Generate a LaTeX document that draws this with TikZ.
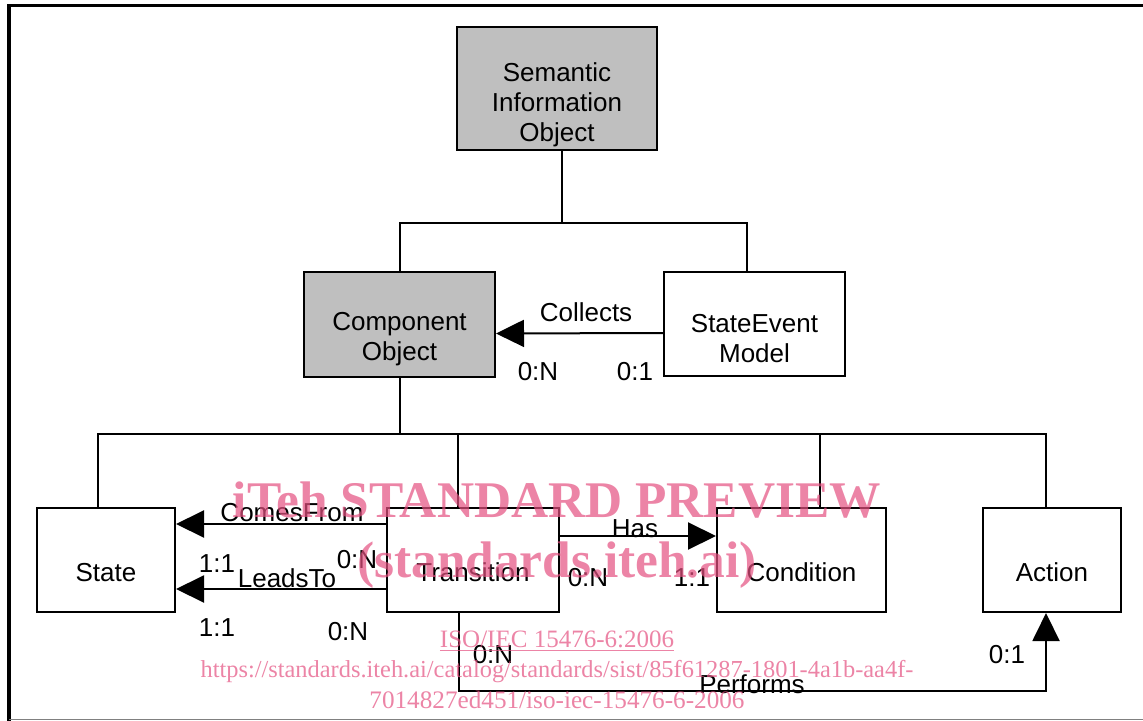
\documentclass[tikz,border=0pt]{standalone}
\usepackage{fontspec}
\setmainfont{Liberation Sans}
\newfontfamily\wmfont{Liberation Serif}
\usetikzlibrary{arrows.meta}
\definecolor{wmpink}{RGB}{228,80,128}

\begin{document}
\begin{tikzpicture}[x=0.5pt,y=-0.5pt,>={Triangle[length=14pt,width=13.5pt]},
  line width=1pt,font=\fontsize{13}{15}\selectfont,
  class node/.style={rectangle,draw,minimum height=52pt},
  grey node/.style={class node,fill=gray!50},
  box text/.style={align=center,yshift=-6.25pt},
  link label/.style={inner sep=0pt},
  wm text/.style={text=wmpink,text opacity=0.7,inner sep=0pt,anchor=base}]
  \useasboundingbox (0,0) rectangle (1143,721);

  % frame
  \draw[line width=1.75pt] (9,721) -- (9,5.5) -- (1143,5.5);
  \draw[gray,line width=0.75pt] (9,719.5) -- (1143,719.5);

  % classes
  \node[grey node,minimum width=100pt,minimum height=61.5pt,
    label={[box text,yshift=-1.75pt]center:{Semantic\\Information\\Object}}] (sio) at (557,88.5) {};
  \node[grey node,minimum width=95.5pt,minimum height=52.5pt,
    label={[box text,yshift=-1.25pt]center:{Component\\Object}}] (comp) at (399.5,324.5) {};
  \node[class node,minimum width=90.5pt,
    label={[box text,yshift=-1.25pt]center:{StateEvent\\Model}}] (sem) at (754.5,324) {};
  \node[class node,minimum width=69pt,
    label={[box text]center:State}] (state) at (106,560) {};
  \node[class node,minimum width=86pt,
    label={[box text]center:Transition}] (trans) at (473,560) {};
  \node[class node,minimum width=84.5pt,
    label={[box text]center:Condition}] (cond) at (801.5,560) {};
  \node[class node,minimum width=69pt,
    label={[box text]center:Action}] (action) at (1052,560) {};

  % tree lines
  \coordinate (topbus) at (0,223);
  \coordinate (lowbus) at (0,434);
  \coordinate (sio bottom) at ([xshift=2.5pt]sio.south);
  \coordinate (sem top) at ([xshift=-3.75pt]sem.north);
  \coordinate (state top) at ([xshift=-4pt]state.north);
  \coordinate (trans top) at ([xshift=-7.5pt]trans.north);
  \coordinate (cond top) at ([xshift=9.25pt]cond.north);
  \coordinate (action top) at ([xshift=-3pt]action.north);
  \coordinate (trans bottom) at ([xshift=-7pt]trans.south);
  \coordinate (action bottom) at ([xshift=-3pt]action.south);

  \draw (sio bottom) -- (sio bottom |- topbus);
  \draw (sem top) |- (comp.north |- topbus) -- (comp.north);
  \draw (comp.south) -- (comp.south |- lowbus);
  \draw (state top) |- (action top |- lowbus) -- (action top);
  \draw (trans top) -- (trans top |- lowbus);
  \draw (cond top) -- (cond top |- lowbus);

  % associations
  \path[->]
    ([yshift=-4.5pt]sem.west) edge ([yshift=-4.5pt]comp.east)
    ([yshift=18pt]trans.west) edge ([yshift=18pt]state.east)
    ([yshift=-14.5pt]trans.west) edge ([yshift=-14.5pt]state.east)
    ([yshift=12pt]trans.east) edge ([yshift=12pt]cond.west);
  \draw[->] (trans bottom) -- ++(0,78) -| (action bottom);

  \node[link label] (collects) at (586,312) {Collects};
  \node[link label] (collects n) at (538,372) {0:N};
  \node[link label] (collects 1) at (635,372) {0:1};
  \node[link label] (comes) at (292,513) {ComesFrom};
  \node[link label] (comes 1) at (217,564) {1:1};
  \node[link label] (comes n) at (357,560) {0:N};
  \node[link label] (leads) at (287,578) {LeadsTo};
  \node[link label] (leads 1) at (217,628) {1:1};
  \node[link label] (leads n) at (348,632) {0:N};
  \node[link label] (has) at (635,529) {Has};
  \node[link label] (has n) at (588,578) {0:N};
  \node[link label] (has 1) at (692,578) {1:1};
  \node[link label] (performs n) at (493,655) {0:N};
  \node[link label] (performs 1) at (1007,655) {0:1};
  \node[link label] (performs) at (752,684) {Performs};

  % watermark
  \node[wm text,font=\wmfont\bfseries\fontsize{25.7}{30}\selectfont]
    (wm title) at (557,517) {iTeh STANDARD PREVIEW};
  \node[wm text,font=\wmfont\bfseries\fontsize{25.7}{30}\selectfont]
    (wm site) at (557,577) {(standards.iteh.ai)};
  \node[wm text,font=\wmfont\fontsize{12.5}{15}\selectfont]
    (wm std) at (557,647) {\underline{ISO/IEC 15476-6:2006}};
  \node[wm text,font=\wmfont\fontsize{12.2}{15}\selectfont]
    (wm url) at (557,677) {https://standards.iteh.ai/catalog/standards/sist/85f61287-1801-4a1b-aa4f-};
  \node[wm text,font=\wmfont\fontsize{12.6}{15}\selectfont]
    (wm url end) at (557,708) {7014827ed451/iso-iec-15476-6-2006};
\end{tikzpicture}
\end{document}
